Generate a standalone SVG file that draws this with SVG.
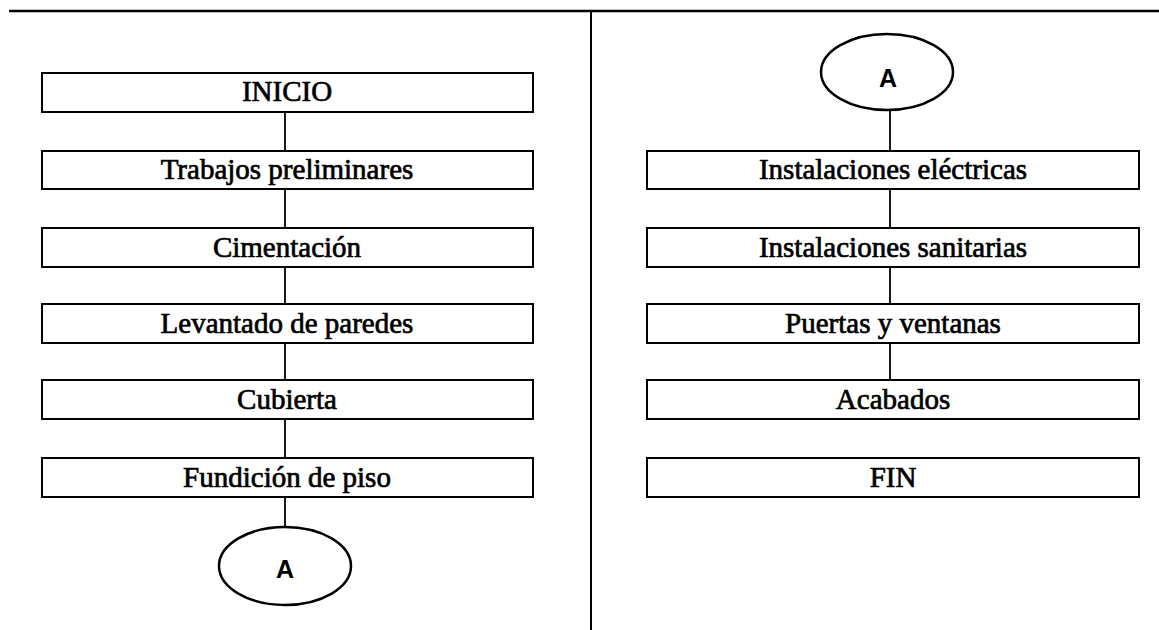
<svg xmlns="http://www.w3.org/2000/svg" width="1159" height="630" viewBox="0 0 1159 630">
<style>
.box{fill:#fff;stroke:#000;stroke-width:2}
.ell{fill:#fff;stroke:#000;stroke-width:2.5}
.lbl{font-family:"Liberation Serif","Times New Roman",serif;font-size:29px;fill:#000;stroke:#000;stroke-width:0.7;text-anchor:middle}
.con{font-family:"Liberation Sans",Arial,sans-serif;font-size:25px;font-weight:bold;fill:#000;text-anchor:middle}
.ln{stroke:#000;stroke-width:1.8;fill:none}
.frame{stroke:#000;fill:none}
</style>
<rect width="1159" height="630" fill="#fff"/>
<g id="frame">
<line class="frame" x1="9" y1="11" x2="1159" y2="11" stroke-width="2.5"/>
<line class="frame" x1="591" y1="11" x2="591" y2="630" stroke-width="2"/>
</g>
<g id="connectors">
<line class="ln" x1="285" y1="112" x2="285" y2="151"/>
<line class="ln" x1="285" y1="189" x2="285" y2="228"/>
<line class="ln" x1="285" y1="267" x2="285" y2="304"/>
<line class="ln" x1="285" y1="343" x2="285" y2="380"/>
<line class="ln" x1="285" y1="419" x2="285" y2="458"/>
<line class="ln" x1="285" y1="497" x2="285" y2="527"/>
<line class="ln" x1="890" y1="110" x2="890" y2="151"/>
<line class="ln" x1="890" y1="189" x2="890" y2="228"/>
<line class="ln" x1="890" y1="267" x2="890" y2="304"/>
<line class="ln" x1="890" y1="343" x2="890" y2="380"/>
</g>
<g id="inicio"><rect class="box" x="42" y="73" width="491" height="39"/><text class="lbl" x="287" y="101">INICIO</text></g>
<g id="trabajos"><rect class="box" x="42" y="151" width="491" height="38"/><text class="lbl" x="287" y="179">Trabajos preliminares</text></g>
<g id="cimentacion"><rect class="box" x="42" y="228" width="491" height="39"/><text class="lbl" x="287" y="257">Cimentación</text></g>
<g id="levantado"><rect class="box" x="42" y="304" width="491" height="39"/><text class="lbl" x="287" y="333">Levantado de paredes</text></g>
<g id="cubierta"><rect class="box" x="42" y="380" width="491" height="39"/><text class="lbl" x="287" y="409">Cubierta</text></g>
<g id="fundicion"><rect class="box" x="42" y="458" width="491" height="39"/><text class="lbl" x="287" y="487">Fundición de piso</text></g>
<g id="conectorA1"><ellipse class="ell" cx="285" cy="566" rx="66" ry="39"/><text class="con" x="285" y="578">A</text></g>
<g id="conectorA2"><ellipse class="ell" cx="887" cy="72" rx="66" ry="38"/><text class="con" x="888" y="87">A</text></g>
<g id="electricas"><rect class="box" x="647" y="151" width="492" height="38"/><text class="lbl" x="893" y="179">Instalaciones eléctricas</text></g>
<g id="sanitarias"><rect class="box" x="647" y="228" width="492" height="39"/><text class="lbl" x="893" y="257">Instalaciones sanitarias</text></g>
<g id="puertas"><rect class="box" x="647" y="304" width="492" height="39"/><text class="lbl" x="893" y="333">Puertas y ventanas</text></g>
<g id="acabados"><rect class="box" x="647" y="380" width="492" height="39"/><text class="lbl" x="893" y="409">Acabados</text></g>
<g id="fin"><rect class="box" x="647" y="458" width="492" height="39"/><text class="lbl" x="893" y="487">FIN</text></g>
</svg>
